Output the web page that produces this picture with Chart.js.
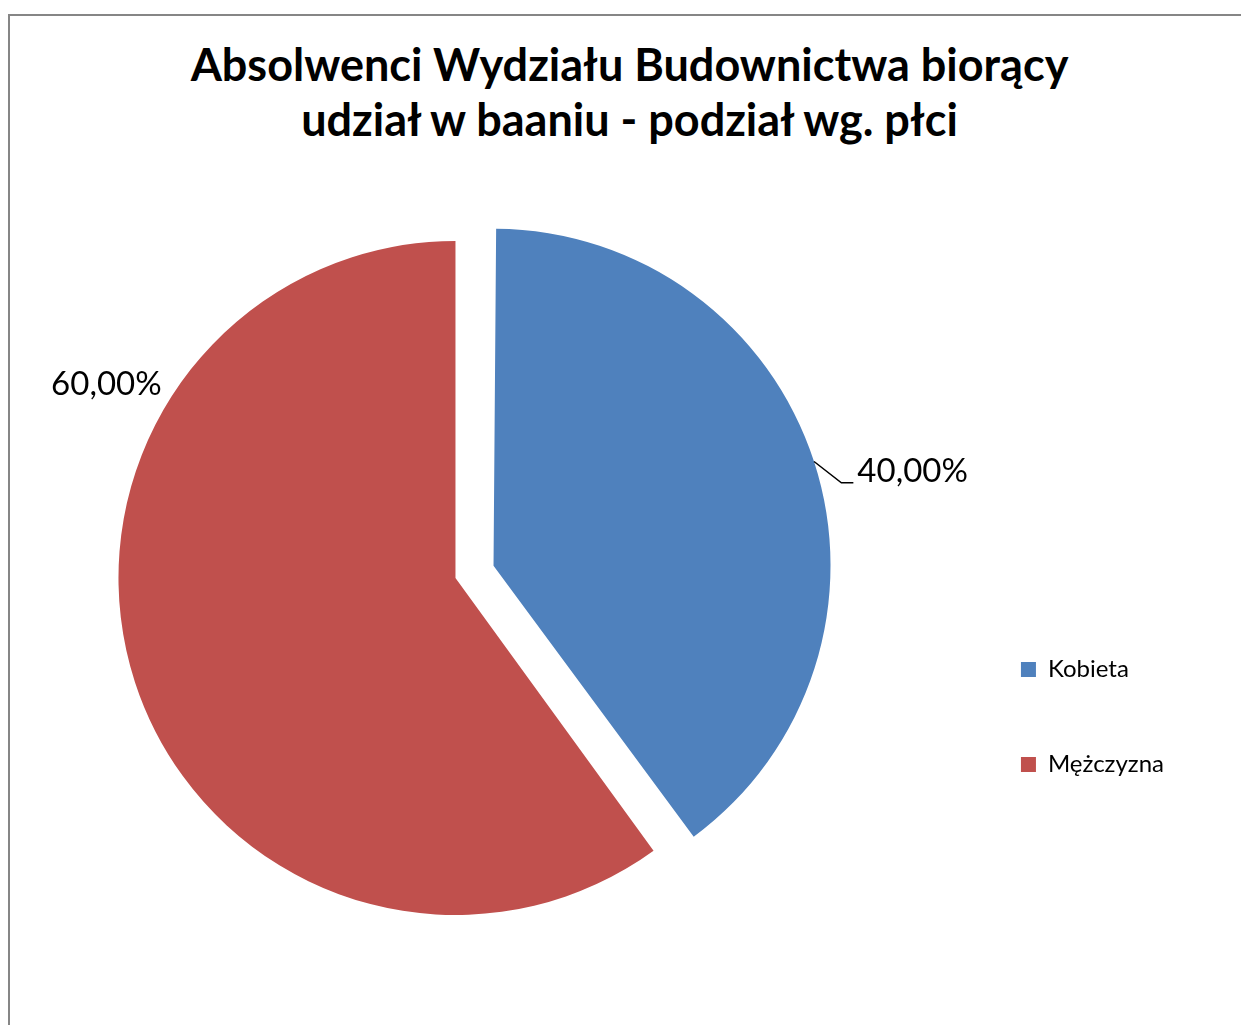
<!DOCTYPE html>
<html>
<head>
<meta charset="utf-8">
<script src="https://cdn.jsdelivr.net/npm/chart.js@4.4.0/dist/chart.umd.min.js"></script>
<style>
  body { margin: 0; background: #fff; width: 1241px; height: 1025px; overflow: hidden; position: relative; }
  #frame { position: absolute; left: 8px; top: 14px; width: 1300px; height: 1100px; border: 2px solid #868686; box-sizing: border-box; }
  #title { position: absolute; left: 18px; top: 37px; width: 1223px; text-align: center;
           font-family: Lato, sans-serif; font-weight: bold; font-size: 45px; line-height: 55px; color: #000; }
  #chart { position: absolute; left: -39px; top: 0; }
</style>
</head>
<body>
<div id="frame"></div>
<div id="title">Absolwenci Wydziału Budownictwa biorący<br>udział w baaniu - podział wg. płci</div>
<canvas id="chart" width="1280" height="1025"></canvas>
<script>
const categories = ['Kobieta', 'Mężczyzna'];
const shares = [40, 60];
const sliceColors = ['#4F81BD', '#C0504D'];
const explode = [160, 0]; // chart.js moves a slice by offset / 4

function formatShare(v) {
  return v.toFixed(2).replace('.', ',') + '%';
}

// chart.js also grows the radius of an offset slice; take that back out
const explodeFix = {
  id: 'explodeFix',
  afterDatasetUpdate(chart, args) {
    args.meta.data.forEach(arc => {
      const off = (arc.options.offset || 0) / 4;
      const fix = 1 - Math.sin(Math.min(Math.PI, arc.circumference));
      arc.outerRadius -= off * fix;
    });
  }
};

// percentage labels outside the slices, Excel style
const sliceLabels = {
  id: 'sliceLabels',
  afterDatasetsDraw(chart, args, opts) {
    const meta = chart.getDatasetMeta(0);
    const r = meta.controller.outerRadius;
    const ctx = chart.ctx;
    ctx.save();
    ctx.font = opts.font;
    ctx.fillStyle = opts.color;
    ctx.strokeStyle = opts.color;
    ctx.lineWidth = 1.5;
    ctx.textBaseline = 'middle';
    meta.data.forEach((arc, i) => {
      const p = opts.place[i];
      const mid = (arc.startAngle + arc.endAngle) / 2;
      const shift = (arc.options.offset || 0) / 4;
      const cx = arc.x + Math.cos(mid) * shift;
      const cy = arc.y + Math.sin(mid) * shift;
      const a = p.angle * Math.PI / 180 - Math.PI / 2;
      const tx = cx + Math.cos(a) * (r + p.dist);
      const ty = cy + Math.sin(a) * (r + p.dist);
      ctx.textAlign = p.align;
      ctx.fillText(formatShare(shares[i]), tx, ty);
      if (p.leader) {
        const ex = cx + Math.cos(mid) * r;
        const ey = cy + Math.sin(mid) * r;
        ctx.beginPath();
        ctx.moveTo(ex, ey);
        ctx.lineTo(tx - 16, ty + 12);
        ctx.lineTo(tx - 4, ty + 12);
        ctx.stroke();
      }
    });
    ctx.restore();
  }
};

Chart.defaults.font.family = 'Lato';

new Chart(document.getElementById('chart'), {
  type: 'pie',
  data: {
    labels: categories,
    datasets: [{
      data: shares,
      backgroundColor: sliceColors,
      borderWidth: 0,
      offset: explode
    }]
  },
  options: {
    responsive: false,
    devicePixelRatio: 1,
    animation: false,
    events: [],
    radius: 337,
    layout: { padding: { top: 308.5, bottom: 177.5, left: 0, right: 67 } },
    plugins: {
      title: { display: false },
      tooltip: { enabled: false },
      legend: {
        position: 'right',
        align: 'end',
        labels: {
          boxWidth: 15,
          boxHeight: 15,
          padding: 71,
          color: '#000',
          font: { family: 'Lato', size: 24 }
        }
      },
      sliceLabels: {
        font: '33px Lato',
        color: '#000',
        place: [
          { angle: 75.4, dist: 39, align: 'left', leader: true },
          { angle: 303.4, dist: 15, align: 'right', leader: false }
        ]
      }
    }
  },
  plugins: [explodeFix, sliceLabels]
});
</script>
</body>
</html>
